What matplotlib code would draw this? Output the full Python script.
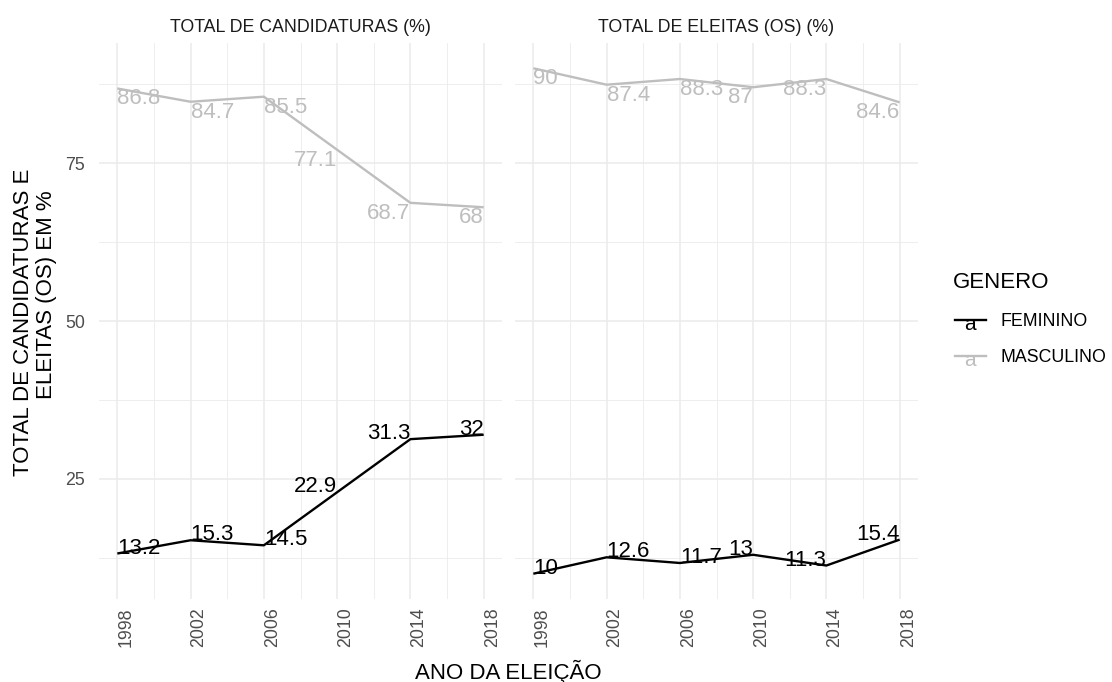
import matplotlib
matplotlib.use("Agg")
import matplotlib.pyplot as plt
from matplotlib.lines import Line2D

plt.rcParams["font.family"] = ["Liberation Sans", "DejaVu Sans"]

# ── data ────────────────────────────────────────────────────────────────
years = [1998, 2002, 2006, 2010, 2014, 2018]
panels = ["TOTAL DE CANDIDATURAS (%)", "TOTAL DE ELEITAS (OS) (%)"]

cand_fem = [13.2, 15.3, 14.5, 22.9, 31.3, 32]
cand_masc = [86.8, 84.7, 85.5, 77.1, 68.7, 68]
eleitas_fem = [10, 12.6, 11.7, 13, 11.3, 15.4]
eleitas_masc = [90, 87.4, 88.3, 87, 88.3, 84.6]

generos = ["FEMININO", "MASCULINO"]
cores = {"FEMININO": "black", "MASCULINO": "#BEBEBE"}

series = [
    {"FEMININO": cand_fem, "MASCULINO": cand_masc},
    {"FEMININO": eleitas_fem, "MASCULINO": eleitas_masc},
]

# ── layout ──────────────────────────────────────────────────────────────
W, H = 1112, 682
fig = plt.figure(figsize=(W / 100, H / 100), dpi=100)
fig.set_facecolor("white")

ylo, yhi = 6, 94
xlo, xhi = 1997, 2019
xmid, ymid = (xlo + xhi) / 2, (ylo + yhi) / 2

lefts = [99, 515]
pw, top, bot = 403, 43, 599

grid_c = "#EBEBEB"
axes = []
for i, (left, titulo, dados) in enumerate(zip(lefts, panels, series)):
    ax = fig.add_axes([left / W, 1 - bot / H, pw / W, (bot - top) / H])
    ax.set_xlim(xlo, xhi)
    ax.set_ylim(ylo, yhi)
    for s in ax.spines.values():
        s.set_visible(False)

    # grid (ggplot theme_minimal style)
    for x in range(2000, 2018, 4):
        ax.axvline(x, color=grid_c, lw=0.6, zorder=0)
    for x in range(1998, 2019, 4):
        ax.axvline(x, color=grid_c, lw=1.1, zorder=0)
    for y in [12.5, 37.5, 62.5, 87.5]:
        ax.axhline(y, color=grid_c, lw=0.6, zorder=0)
    for y in [25, 50, 75]:
        ax.axhline(y, color=grid_c, lw=1.1, zorder=0)

    ax.set_xticks(years)
    ax.set_xticklabels([str(y) for y in years], rotation=90, ha="left",
                       va="top", color="#4D4D4D", fontsize=12.8)
    ax.set_yticks([25, 50, 75])
    if i == 0:
        ax.set_yticklabels(["25", "50", "75"], color="#4D4D4D", fontsize=12.8)
    else:
        ax.set_yticklabels([])
    ax.tick_params(length=0, pad=6)
    ax.tick_params(axis="y", pad=10)

    for g in generos:
        vals = dados[g]
        ax.plot(years, vals, color=cores[g], lw=1.7, zorder=3,
                solid_capstyle="butt")
        # hjust/vjust "inward"
        for x, v in zip(years, vals):
            ha = "left" if x < xmid else "right"
            va = "top" if v > ymid else "baseline"
            ax.text(x, v, f"{v:g}", ha=ha, va=va, color=cores[g],
                    fontsize=16, zorder=4)

    fig.text((left + pw / 2) / W, 1 - 28 / H, titulo, ha="center",
             va="center", fontsize=12.8, color="#1A1A1A")
    axes.append(ax)

# axis titles
fig.text(508 / W, 1 - 672 / H, "ANO DA ELEIÇÃO", ha="center", va="center",
         fontsize=16)
fig.text(24 / W, 1 - 322 / H, "TOTAL DE CANDIDATURAS E", rotation=90,
         ha="center", va="center", fontsize=16)
fig.text(47 / W, 1 - 295 / H, "ELEITAS (OS) EM %", rotation=90,
         ha="center", va="center", fontsize=16)

# legend
fig.text(953 / W, 1 - 282 / H, "GENERO", ha="left", va="center", fontsize=16)
for g, yk in zip(generos, [320, 356]):
    fig.add_artist(Line2D([955 / W, 986 / W], [1 - yk / H, 1 - yk / H],
                          color=cores[g], lw=1.7, transform=fig.transFigure))
    fig.text(970 / W, 1 - (yk + 4) / H, "a", ha="center", va="center",
             fontsize=15, color=cores[g])
    fig.text(1000 / W, 1 - (yk + 2) / H, g, ha="left", va="center",
             fontsize=12.8, color="black")

fig.savefig("out.png", dpi=100, facecolor=fig.get_facecolor())
